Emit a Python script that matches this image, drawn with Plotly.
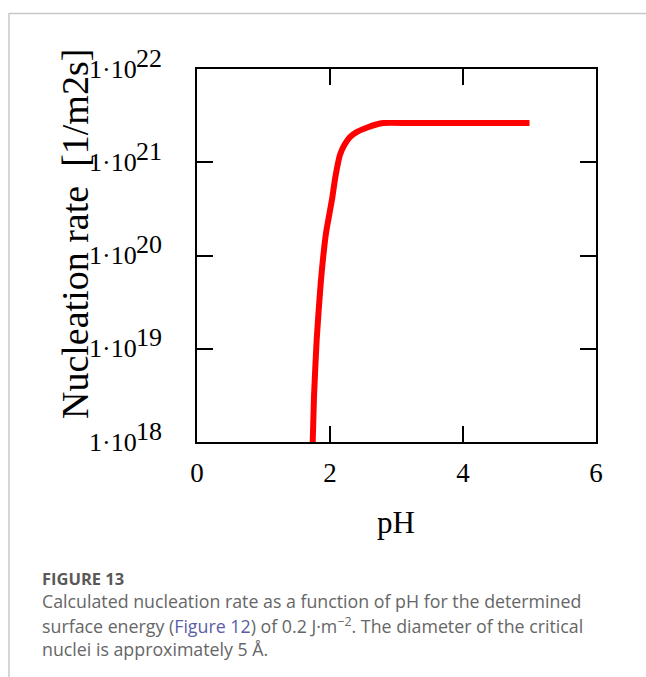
import plotly.graph_objects as go

# ---- data ----
ph = [1.74, 1.76, 1.80, 1.86, 1.94, 2.03, 2.08, 2.15, 2.22, 2.30, 2.40, 2.56, 2.80, 3.20, 4.00, 5.00]
nucleation_rate = [1.0e18, 3.16e18, 1.26e19, 5.01e19, 1.74e20, 3.98e20, 6.92e20,
                   1.20e21, 1.55e21, 1.86e21, 2.10e21, 2.36e21, 2.63e21, 2.63e21, 2.63e21, 2.63e21]
x_tick_vals = [0, 2, 4, 6]
x_tick_text = ["0", "2", "4", "6"]
y_exponents = [18, 19, 20, 21, 22]

W, H = 646, 677
L, R, T, B = 197, 596, 69, 442  # plot area pixel bounds


def px(x):
    return (x - L) / (R - L)


def py(y):
    return (B - y) / (B - T)


fig = go.Figure()
fig.add_trace(go.Scatter(x=ph, y=nucleation_rate, mode="lines",
                         line=dict(color="#ff0000", width=6, shape="spline", smoothing=0.5),
                         showlegend=False, hoverinfo="skip"))

serif = "Liberation Serif, Times New Roman, serif"
axis_common = dict(showline=True, linecolor="black", linewidth=2, mirror="ticks",
                   ticks="inside", ticklen=16, tickwidth=2, tickcolor="black",
                   showgrid=False, zeroline=False)

fig.update_xaxes(range=[0, 6], tickvals=x_tick_vals, ticktext=x_tick_text,
                 tickfont=dict(family=serif, size=27, color="black"),
                 ticklabelstandoff=6, **axis_common)
fig.update_yaxes(type="log", range=[18, 22], tickvals=[10.0 ** e for e in y_exponents],
                 showticklabels=False, **axis_common)

ann = []
for e in y_exponents:
    ann.append(dict(xref="paper", yref="y", x=px(139), y=e, text="1·10",
                    xanchor="right", yanchor="middle", showarrow=False,
                    font=dict(family=serif, size=26, color="black")))
    ann.append(dict(xref="paper", yref="y", x=px(137), y=e, text=str(e),
                    xanchor="left", yanchor="middle", yshift=11, xshift=-3, showarrow=False,
                    font=dict(family=serif, size=26, color="black")))

# axis titles
ann.append(dict(xref="paper", yref="paper", x=px(396), y=py(522), text="pH",
                xanchor="center", yanchor="middle", showarrow=False,
                font=dict(family=serif, size=31, color="black")))
ann.append(dict(xref="paper", yref="paper", x=px(75), y=py(234),
                text="Nucleation rate  [1/m2s]", textangle=-90,
                xanchor="center", yanchor="middle", showarrow=False,
                font=dict(family=serif, size=38, color="black")))

# caption
cap_font = "Open Sans, Lato, sans-serif"
ann.append(dict(xref="paper", yref="paper", x=px(40), y=py(578), text="<b>FIGURE 13</b>",
                xanchor="left", yanchor="middle", showarrow=False,
                font=dict(family=cap_font, size=16.5, color="#595959")))
cap_lines = [
    "Calculated nucleation rate as a function of pH for the determined",
    "surface energy (<span style='color:#5b5ea6'>Figure 12</span>) of 0.2 J·m<sup>−2</sup>. The diameter of the critical",
    "nuclei is approximately 5 Å.",
]
for i, line in enumerate(cap_lines):
    ann.append(dict(xref="paper", yref="paper", x=px(40), y=py(601 + 24 * i), text=line,
                    xanchor="left", yanchor="middle", showarrow=False,
                    font=dict(family=cap_font, size=17.8, color="#666666")))

shapes = [
    dict(type="line", xref="paper", yref="paper", x0=px(9), x1=px(646), y0=py(13.5), y1=py(13.5),
         line=dict(color="#c8c8c8", width=1.5)),
    dict(type="line", xref="paper", yref="paper", x0=px(9), x1=px(9), y0=py(13), y1=py(677),
         line=dict(color="#c8c8c8", width=1.5)),
]

fig.update_layout(width=W, height=H, margin=dict(l=L, r=W - R, t=T, b=H - B),
                  paper_bgcolor="white", plot_bgcolor="white",
                  annotations=ann, shapes=shapes)

fig.write_html("out.html")
